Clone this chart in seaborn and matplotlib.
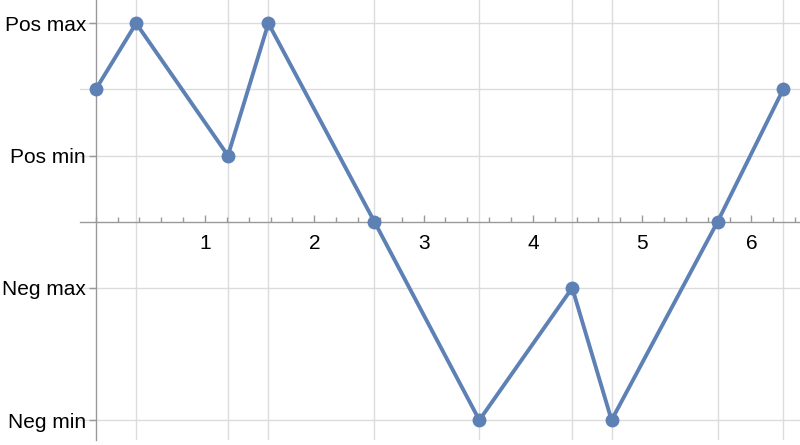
import matplotlib
matplotlib.use("Agg")
import matplotlib.pyplot as plt
import seaborn as sns
import pandas as pd
from matplotlib.ticker import FixedLocator, MultipleLocator

# data
x_vals = [0.0, 0.37, 1.21, 1.58, 2.55, 3.51, 4.36, 4.72, 5.69, 6.29]
y_vals = [2, 3, 1, 3, 0, -3, -1, -3, 0, 2]
y_ticks = [3, 1, -1, -3]
y_labels = ["Pos max", "Pos min", "Neg max", "Neg min"]
y_grid = [3, 2, 1, -1, -3]
x_ticks = [1, 2, 3, 4, 5, 6]

df = pd.DataFrame({"x": x_vals, "y": y_vals})

sns.set_style("white")
plt.rcParams["font.family"] = ["Liberation Sans", "DejaVu Sans"]

fig = plt.figure(figsize=(8, 4.45), dpi=100)
ax = fig.add_axes([0.1, 5 / 445, 0.9, 440 / 445])

grid_color = "#dcdcdc"
for xv in x_vals[1:]:
    ax.axvline(xv, color=grid_color, lw=1, zorder=0)
for yv in y_grid:
    ax.axhline(yv, color=grid_color, lw=1, zorder=0)

sns.lineplot(data=df, x="x", y="y", ax=ax, color="#5E81B5", lw=2.8,
             marker="o", markersize=10, markeredgewidth=0, sort=False, zorder=3)

ax.set_xlim(-0.1436, 6.444)
ax.set_ylim(-3.30, 3.352)

for side in ["top", "right"]:
    ax.spines[side].set_visible(False)
ax.spines["bottom"].set_position(("data", 0))
ax.spines["left"].set_position(("data", 0))
for side in ["bottom", "left"]:
    ax.spines[side].set_color("#999999")
    ax.spines[side].set_linewidth(1)

ax.xaxis.set_major_locator(FixedLocator(x_ticks))
ax.xaxis.set_minor_locator(MultipleLocator(0.2))
ax.set_xticklabels([str(t) for t in x_ticks])
ax.tick_params(axis="x", which="both", bottom=True)
ax.tick_params(axis="x", which="major", direction="in", length=5, width=1,
               color="#999999", labelsize=15, labelcolor="black", pad=9)
ax.tick_params(axis="x", which="minor", direction="in", length=3.5, width=1,
               color="#999999")

ax.set_yticks(y_ticks)
ax.set_yticklabels(y_labels)
ax.tick_params(axis="y", which="major", left=True, direction="out", length=5,
               width=1, color="#999999", labelsize=15, labelcolor="black", pad=2)

ax.set_xlabel("")
ax.set_ylabel("")
ax.set_facecolor("white")

fig.savefig("out.png", dpi=100)
